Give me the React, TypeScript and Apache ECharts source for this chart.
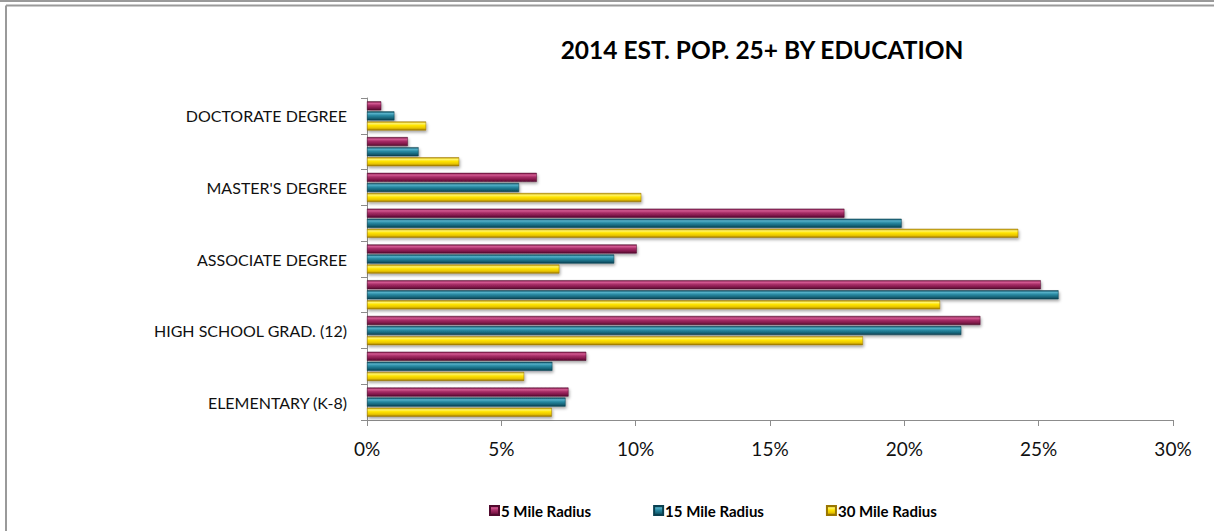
import React, { useEffect, useRef } from "react";
import * as echarts from "echarts";

const categories = [
  "ELEMENTARY (K-8)",
  "SOME HIGH SCHOOL (9-11)",
  "HIGH SCHOOL GRAD. (12)",
  "SOME COLLEGE (13-15)",
  "ASSOCIATE DEGREE",
  "BACHELOR'S DEGREE",
  "MASTER'S DEGREE",
  "PROFESSIONAL SCHOOL DEGREE",
  "DOCTORATE DEGREE",
];
const mile5 = [7.5, 8.16, 22.83, 25.08, 10.04, 17.77, 6.32, 1.52, 0.53];
const mile15 = [7.39, 6.9, 22.12, 25.74, 9.2, 19.9, 5.66, 1.92, 1.02];
const mile30 = [6.88, 5.85, 18.46, 21.33, 7.16, 24.24, 10.21, 3.43, 2.2];
const xTicks = [0, 5, 10, 15, 20, 25, 30];

const grad = (stops: string[]) =>
  new echarts.graphic.LinearGradient(0, 0, 0, 1, [
    { offset: 0, color: stops[0] },
    { offset: 0.22, color: stops[1] },
    { offset: 0.45, color: stops[2] },
    { offset: 0.75, color: stops[3] },
    { offset: 1, color: stops[4] },
  ]);

const magenta = ["#7a1a48", "#d35a92", "#a82f68", "#84194c", "#520a2e"];
const teal = ["#0d5064", "#55b0c8", "#2a8ba4", "#17677c", "#0a4050"];
const yellow = ["#c09a00", "#fff46a", "#ffe400", "#e8c400", "#9a7600"];

export default function App() {
  const ref = useRef<HTMLDivElement>(null);
  useEffect(() => {
    const chart = echarts.init(ref.current!, null, { renderer: "svg" });
    const font = "Lato, 'Open Sans', sans-serif";
    const barStyle = (stops: string[]) => ({
      color: grad(stops),
      borderColor: stops[4],
      borderWidth: 0.5,
      shadowColor: "rgba(0,0,0,0.35)",
      shadowBlur: 3,
      shadowOffsetX: 1,
      shadowOffsetY: 2,
    });
    chart.setOption({
      animation: false,
      backgroundColor: "#ffffff",
      title: {
        text: "2014 EST. POP. 25+ BY EDUCATION",
        left: 757,
        top: 32,
        textAlign: "center",
        textStyle: { fontFamily: font, fontSize: 24.5, fontWeight: "bold", color: "#000" },
      },
      legend: {
        data: ["5 Mile Radius", "15 Mile Radius", "30 Mile Radius"],
        left: 484,
        top: 498,
        itemWidth: 9,
        itemHeight: 9,
        itemGap: 62,
        icon: "rect",
        textStyle: { fontFamily: font, fontSize: 15, fontWeight: "bold", color: "#000", padding: [0, 0, 0, -3] },
      },
      grid: { left: 367, right: 41, top: 98, bottom: 111, containLabel: false },
      xAxis: {
        type: "value",
        min: 0,
        max: 30,
        interval: 5,
        splitLine: { show: false },
        axisLine: { show: true, lineStyle: { color: "#8c8c8c", width: 1 } },
        axisTick: { show: true, length: 6, lineStyle: { color: "#8c8c8c" } },
        axisLabel: {
          margin: 19,
          fontFamily: font,
          fontSize: 19,
          color: "#111",
          formatter: (v: number) => (xTicks.includes(v) ? v + "%" : ""),
        },
      },
      yAxis: {
        type: "category",
        data: categories,
        axisLine: { show: true, lineStyle: { color: "#8c8c8c", width: 1 } },
        axisTick: { show: true, length: 6, interval: 0, lineStyle: { color: "#8c8c8c" } },
        axisLabel: {
          interval: 1,
          margin: 20,
          fontFamily: font,
          fontSize: 16,
          color: "#111",
        },
      },
      series: [
        { name: "5 Mile Radius", type: "bar", data: mile5, barWidth: 9, barGap: "12%", itemStyle: barStyle(magenta) },
        { name: "15 Mile Radius", type: "bar", data: mile15, barWidth: 9, barGap: "12%", itemStyle: barStyle(teal) },
        { name: "30 Mile Radius", type: "bar", data: mile30, barWidth: 9, barGap: "12%", itemStyle: barStyle(yellow) },
      ],
      graphic: [
        { type: "line", shape: { x1: 0, y1: 1, x2: 1214, y2: 1 }, style: { stroke: "#9a9a9a", lineWidth: 2 } },
        { type: "line", shape: { x1: 6, y1: 5.5, x2: 1214, y2: 5.5 }, style: { stroke: "#9a9a9a", lineWidth: 2 } },
        { type: "line", shape: { x1: 6, y1: 5.5, x2: 6, y2: 531 }, style: { stroke: "#9a9a9a", lineWidth: 2 } },
      ],
    });
    return () => chart.dispose();
  }, []);
  return (
    <div
      ref={ref}
      style={{ position: "fixed", left: 0, top: 0, width: 1214, height: 531 }}
    />
  );
}
